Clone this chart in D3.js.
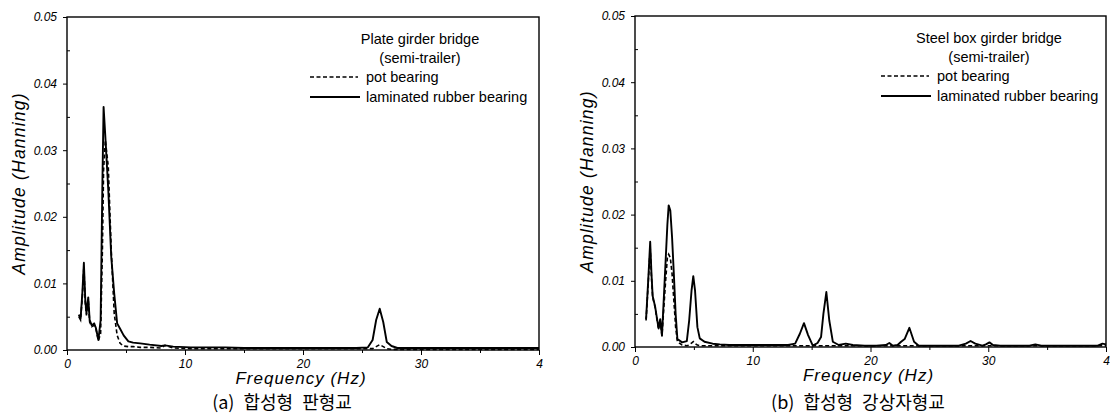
<!DOCTYPE html>
<meta charset="utf-8">
<style>
body { margin: 0; background: #fff; }
svg { font-family: "Liberation Sans", Arial, sans-serif; }
.tick text { font-style: italic; font-size: 12px; }
.domain { display: none; }
.frame { fill: none; stroke: #000; stroke-width: 1.4; }
.rubber { fill: none; stroke: #000; stroke-width: 1.9; stroke-linejoin: round; }
.pot { fill: none; stroke: #000; stroke-width: 1.6; stroke-dasharray: 4,2.5; }
.axlabel { font-style: italic; font-size: 17px; letter-spacing: 1px; }
.ylabel { font-size: 17.5px; letter-spacing: 1.2px; }
.leg { font-size: 14.5px; }
.caption { font-family: "Noto Sans CJK KR", sans-serif; font-size: 18px; word-spacing: 5px; }
</style>
<svg width="1110" height="416"></svg>
<script src="https://d3js.org/d3.v7.min.js"></script>
<script>

var yTicks = [0, 0.01, 0.02, 0.03, 0.04, 0.05];
var xTicks = [0, 10, 20, 30, 40];
var xTickLabels = ["0", "10", "20", "30", "4"];

// (a) plate girder bridge
var hzA = [1.0, 1.15, 1.3, 1.43, 1.55, 1.65, 1.8, 1.92, 2.1, 2.3, 2.45, 2.66, 2.85, 3.0, 3.1, 3.25, 3.5, 3.75, 4.0, 4.25, 4.5, 4.8, 5.2, 5.6, 6.2, 7.0, 8.0, 8.3, 9.0, 10.5, 12, 13.4, 15, 17, 19, 21, 23, 24.5, 25.5, 25.9, 26.2, 26.5, 26.8, 27.1, 27.5, 28, 29, 31, 33, 35, 37, 39, 40];
var rubberA = [0.0053, 0.0047, 0.0085, 0.0131, 0.0075, 0.0055, 0.0079, 0.0045, 0.0037, 0.0040, 0.0033, 0.0015, 0.0045, 0.025, 0.0365, 0.032, 0.024, 0.014, 0.0085, 0.0040, 0.0032, 0.0022, 0.0013, 0.0011, 0.0010, 0.0008, 0.0006, 0.0007, 0.0005, 0.0004, 0.0004, 0.0004, 0.0003, 0.0003, 0.0003, 0.0003, 0.0003, 0.0003, 0.0004, 0.0015, 0.0045, 0.0062, 0.0042, 0.0012, 0.0006, 0.0003, 0.0003, 0.0003, 0.0003, 0.0003, 0.0003, 0.0003, 0.0003];
var potA = [0.0050, 0.0045, 0.0080, 0.0125, 0.0070, 0.0052, 0.0076, 0.0042, 0.0035, 0.0037, 0.0032, 0.0014, 0.0025, 0.015, 0.027, 0.0315, 0.0275, 0.015, 0.0055, 0.0022, 0.0010, 0.0006, 0.0005, 0.0005, 0.0004, 0.0004, 0.0003, 0.0007, 0.0003, 0.0002, 0.0002, 0.0002, 0.0002, 0.0002, 0.0002, 0.0002, 0.0002, 0.0002, 0.0002, 0.0002, 0.0005, 0.0008, 0.0005, 0.0002, 0.0001, 0.0001, 0.0001, 0.0001, 0.0001, 0.0001, 0.0001, 0.0001, 0.0001];

// (b) steel box girder bridge
var hzB = [0.94, 1.0, 1.15, 1.29, 1.4, 1.5, 1.71, 1.85, 2.0, 2.14, 2.29, 2.45, 2.6, 2.75, 2.86, 3.0, 3.15, 3.3, 3.45, 3.6, 4.0, 4.4, 4.6, 4.8, 4.95, 5.1, 5.3, 5.5, 5.9, 6.6, 7.2, 8, 9, 10, 11, 12, 13, 13.6, 14.0, 14.35, 14.7, 15.1, 15.5, 15.8, 16.0, 16.25, 16.5, 16.8, 17.3, 17.9, 18.5, 19.5, 20.5, 21.3, 21.6, 21.9, 22.3, 22.6, 22.9, 23.3, 23.7, 24.1, 25, 26, 27.5, 28.1, 28.5, 28.9, 29.5, 29.8, 30.1, 30.4, 31, 32, 33.5, 34, 34.5, 36, 38, 39.3, 39.7, 40];
var rubberB = [0.0042, 0.0061, 0.011, 0.0159, 0.011, 0.0077, 0.0061, 0.0045, 0.0028, 0.0042, 0.0017, 0.0075, 0.013, 0.0185, 0.0214, 0.0206, 0.0165, 0.011, 0.005, 0.0012, 0.0007, 0.0009, 0.004, 0.0085, 0.0107, 0.0085, 0.003, 0.0013, 0.0008, 0.0005, 0.0004, 0.0003, 0.0003, 0.0003, 0.0003, 0.0003, 0.0003, 0.0005, 0.002, 0.0036, 0.0018, 0.0002, 0.0006, 0.0015, 0.005, 0.0083, 0.004, 0.0008, 0.0003, 0.0005, 0.0003, 0.0002, 0.0002, 0.0003, 0.0006, 0.0002, 0.0003, 0.0008, 0.0012, 0.0029, 0.0008, 0.0002, 0.0002, 0.0002, 0.0002, 0.0005, 0.0009, 0.0005, 0.0002, 0.0004, 0.0007, 0.0003, 0.0002, 0.0002, 0.0002, 0.0004, 0.0002, 0.0002, 0.0002, 0.0002, 0.0005, 0.0004];
var potB = [0.0040, 0.0058, 0.0105, 0.0150, 0.0105, 0.0075, 0.0060, 0.0043, 0.0027, 0.0040, 0.0017, 0.006, 0.010, 0.0135, 0.014, 0.0135, 0.011, 0.007, 0.003, 0.0008, 0.0003, 0.0002, 0.0003, 0.0006, 0.0008, 0.0005, 0.0003, 0.0002, 0.0002, 0.0002, 0.0002, 0.0002, 0.0002, 0.0002, 0.0002, 0.0002, 0.0002, 0.0002, 0.0002, 0.0002, 0.0002, 0.0002, 0.0002, 0.0002, 0.0002, 0.0002, 0.0002, 0.0002, 0.0002, 0.0002, 0.0002, 0.0002, 0.0002, 0.0002, 0.0002, 0.0002, 0.0002, 0.0002, 0.0002, 0.0002, 0.0002, 0.0002, 0.0002, 0.0002, 0.0002, 0.0002, 0.0002, 0.0002, 0.0002, 0.0002, 0.0002, 0.0002, 0.0002, 0.0002, 0.0002, 0.0002, 0.0002, 0.0002, 0.0002, 0.0002, 0.0002, 0.0002];

var svg = d3.select("svg");
svg.append("rect").attr("width", 1110).attr("height", 416).attr("fill", "#fff");

function drawPanel(p) {
  var x = d3.scaleLinear().domain([0, 40]).range([p.left, p.right]),
      y = d3.scaleLinear().domain([0, 0.05]).range([p.bottom, p.top]);
  var g = svg.append("g");

  g.append("g")
      .attr("transform", "translate(" + p.left + ",0)")
      .call(d3.axisLeft(y).tickValues(yTicks).tickFormat(d3.format(".2f")).tickSize(4).tickPadding(6));
  g.append("g")
      .attr("transform", "translate(" + p.left + ",0)")
      .call(d3.axisRight(y).tickValues(d3.range(0.005, 0.05, 0.01)).tickFormat("").tickSize(3));
  g.append("g")
      .attr("transform", "translate(0," + p.bottom + ")")
      .call(d3.axisBottom(x).tickValues(xTicks).tickFormat(function(d, i) { return xTickLabels[i]; }).tickSize(5).tickPadding(4));
  g.append("g")
      .attr("transform", "translate(0," + p.bottom + ")")
      .call(d3.axisBottom(x).tickValues([5, 15, 25, 35]).tickFormat("").tickSize(3));

  g.append("rect").attr("class", "frame")
      .attr("x", p.left).attr("y", p.top)
      .attr("width", p.right - p.left).attr("height", p.bottom - p.top);

  var line = d3.line()
      .x(function(d) { return x(d[0]); })
      .y(function(d) { return y(d[1]); });

  g.append("path").attr("class", "pot").attr("d", line(d3.zip(p.hz, p.pot)));
  g.append("path").attr("class", "rubber").attr("d", line(d3.zip(p.hz, p.rubber)));

  // legend
  var lx = p.legX;
  g.append("text").attr("class", "leg").attr("x", p.titleX).attr("y", p.top + 27)
      .attr("text-anchor", "middle").text(p.title);
  g.append("text").attr("class", "leg").attr("x", p.titleX).attr("y", p.top + 46)
      .attr("text-anchor", "middle").text("(semi-trailer)");
  g.append("line").attr("class", "pot").attr("x1", lx).attr("x2", lx + 48)
      .attr("y1", p.top + 60).attr("y2", p.top + 60);
  g.append("text").attr("class", "leg").attr("x", lx + 56).attr("y", p.top + 65).text("pot bearing");
  g.append("line").attr("class", "rubber").attr("x1", lx).attr("x2", lx + 50)
      .attr("y1", p.top + 80).attr("y2", p.top + 80).attr("stroke-width", 1.5);
  g.append("text").attr("class", "leg").attr("x", lx + 56).attr("y", p.top + 85).text("laminated rubber bearing");

  g.append("text").attr("class", "axlabel ylabel")
      .attr("transform", "translate(" + (p.left - 42) + "," + ((p.top + p.bottom) / 2) + ") rotate(-90)")
      .attr("text-anchor", "middle").text("Amplitude (Hanning)");
  g.append("text").attr("class", "axlabel")
      .attr("x", (p.left + p.right) / 2 - 2).attr("y", p.bottom + 34)
      .attr("text-anchor", "middle").text("Frequency (Hz)");
  g.append("text").attr("class", "caption")
      .attr("x", p.capX).attr("y", 409)
      .attr("text-anchor", "middle").text(p.caption);
}

drawPanel({left: 67, right: 539, top: 17, bottom: 350, hz: hzA, rubber: rubberA, pot: potA,
  title: "Plate girder bridge", titleX: 420, legX: 310, caption: "(a) 합성형 판형교", capX: 282});
drawPanel({left: 635, right: 1106, top: 16, bottom: 347, hz: hzB, rubber: rubberB, pot: potB,
  title: "Steel box girder bridge", titleX: 989, legX: 881, caption: "(b) 합성형 강상자형교", capX: 858});

</script>
